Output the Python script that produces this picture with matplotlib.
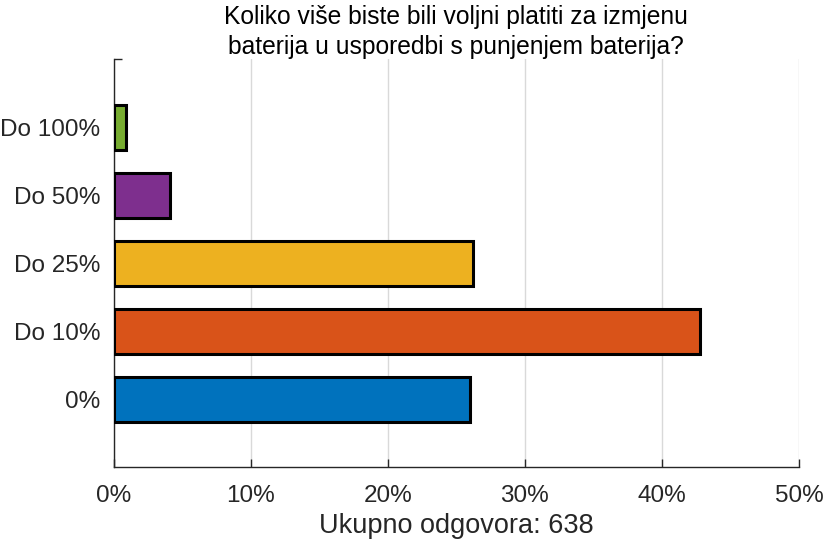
import matplotlib.pyplot as plt
import numpy as np

plt.rcParams['font.family'] = ['Liberation Sans', 'DejaVu Sans']

categories = ['0%', 'Do 10%', 'Do 25%', 'Do 50%', 'Do 100%']
percent = [26.0, 42.8, 26.2, 4.1, 0.9]
colors = ['#0072BD', '#D95319', '#EDB120', '#7E2F8E', '#77AC30']
x_ticks = [0, 10, 20, 30, 40, 50]
total = 638

fig = plt.figure(figsize=(8.23, 5.43), dpi=100)
ax = fig.add_axes([0.1382, 0.1394, 0.8326, 0.7514])

pos = np.arange(1, len(categories) + 1)
ax.barh(pos, percent, height=0.66, color=colors, edgecolor='black', linewidth=2.2, zorder=3)

ax.set_xlim(0, 50)
ax.set_ylim(0, 6)
ax.set_xticks(x_ticks)
ax.set_xticklabels([f'{t}%' for t in x_ticks])
ax.set_yticks(pos)
ax.set_yticklabels(categories)
ax.set_yticks([6], minor=True)

ax.grid(axis='x', color='#d9d9d9', linewidth=1, zorder=0)
ax.set_axisbelow(True)

for s in ['top', 'right']:
    ax.spines[s].set_visible(False)
for s in ['left', 'bottom']:
    ax.spines[s].set_color('#262626')
    ax.spines[s].set_linewidth(1)

ax.tick_params(axis='both', which='both', direction='in', colors='#262626',
               labelcolor='#262626', labelsize=17.5, length=6, width=1)
ax.tick_params(axis='y', which='major', length=0, pad=9.5)
ax.tick_params(axis='x', pad=13)

ax.set_xlabel(f'Ukupno odgovora: {total}', fontsize=19.5, color='#262626', labelpad=4)
ax.set_title('Koliko više biste bili voljni platiti za izmjenu\nbaterija u usporedbi s punjenjem baterija?',
             fontsize=17.75, color='black', pad=4, linespacing=1.3)

fig.savefig('out.png', dpi=100)
